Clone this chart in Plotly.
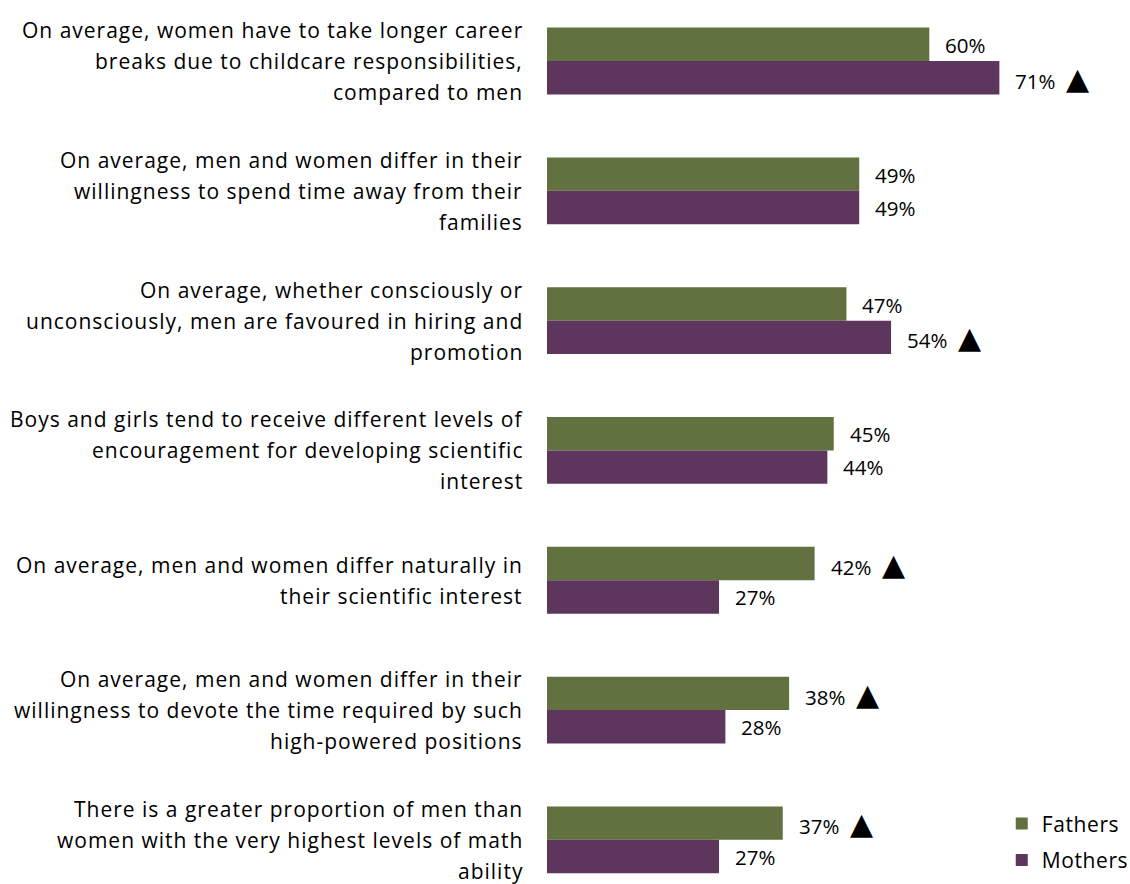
import plotly.graph_objects as go

# Survey statements (one entry per category, lines split for display)
statements = [
    ["On average, women have to take longer career",
     "breaks due to childcare responsibilities,",
     "compared to men"],
    ["On average, men and women differ in their",
     "willingness to spend time away from their",
     "families"],
    ["On average, whether consciously or",
     "unconsciously, men are favoured in hiring and",
     "promotion"],
    ["Boys and girls tend to receive different levels of",
     "encouragement for developing scientific",
     "interest"],
    ["On average, men and women differ naturally in",
     "their scientific interest"],
    ["On average, men and women differ in their",
     "willingness to devote the time required by such",
     "high-powered positions"],
    ["There is a greater proportion of men than",
     "women with the very highest levels of math",
     "ability"],
]
categories = [" ".join(s) for s in statements]

fathers = [60, 49, 47, 45, 42, 38, 37]
mothers = [71, 49, 54, 44, 27, 28, 27]

# Significantly higher than the other group
fathers_higher = [False, False, False, False, True, True, True]
mothers_higher = [True, False, True, False, False, False, False]

GREEN = "#617140"
PURPLE = "#5c365c"
FONT = "Open Sans"


def spaced(s, px):
    return f"<span style='letter-spacing:{px}px'>{s}</span>"


fig = go.Figure()
fig.add_trace(go.Bar(name=spaced("Fathers", 0.6), y=categories, x=fathers, orientation="h",
                     legendgroup="f",
                     marker=dict(color=GREEN, line=dict(width=0))))
fig.add_trace(go.Bar(name=spaced("Mothers", 0.6), y=categories, x=mothers, orientation="h",
                     legendgroup="m",
                     marker=dict(color=PURPLE, line=dict(width=0))))

annotations = []
LINE_H = 31
for cat, lines in zip(categories, statements):
    n = len(lines)
    for i, line in enumerate(lines):
        annotations.append(dict(
            xref="paper", x=-0.037, yref="y", y=cat,
            text=spaced(line, 1.0), showarrow=False, xanchor="right", yanchor="middle",
            yshift=((n - 1) / 2 - i) * LINE_H,
            font=dict(family=FONT, size=21, color="#000000"),
        ))

# Value labels beside each bar, with a marker for significant differences
for vals, flags, shift in ((fathers, fathers_higher, 16), (mothers, mothers_higher, -17)):
    for cat, v, f in zip(categories, vals, flags):
        txt = f"{v}%" + ("&nbsp;&nbsp;<span style='font-size:30px;font-family:DejaVu Sans'>▲</span>" if f else "")
        annotations.append(dict(
            x=v, y=cat, xref="x", yref="y", text=txt, showarrow=False,
            xanchor="left", yanchor="middle", xshift=14, yshift=shift,
            font=dict(family=FONT, size=20.5, color="#000000"),
        ))

fig.update_layout(
    width=1130, height=884,
    margin=dict(l=547, r=0, t=0, b=0, autoexpand=False),
    barmode="group", bargap=0.485, bargroupgap=0,
    plot_bgcolor="white", paper_bgcolor="white",
    font=dict(family=FONT, size=20.5, color="#000000"),
    xaxis=dict(range=[0, 91.5], visible=False, fixedrange=True),
    yaxis=dict(range=[6.34, -0.47], showticklabels=False, showgrid=False,
               zeroline=False, showline=False, ticks=""),
    legend=dict(x=0.78, y=0.004, xanchor="left", yanchor="bottom",
                traceorder="grouped", font=dict(family=FONT, size=21),
                bgcolor="rgba(0,0,0,0)", itemwidth=30, tracegroupgap=6),
    annotations=annotations,
    showlegend=True,
)

fig.write_html("out.html")
